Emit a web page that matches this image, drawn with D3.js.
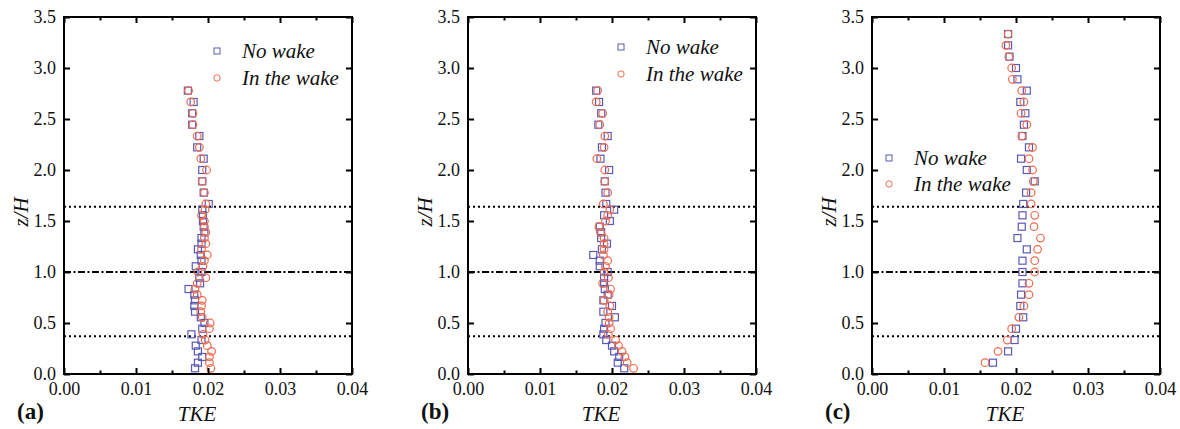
<!DOCTYPE html>
<html>
<head>
<meta charset="utf-8">
<script src="https://cdn.jsdelivr.net/npm/d3@7"></script>
<style>
  html, body { margin: 0; padding: 0; background: #fff; }
  svg { display: block; }
  text { font-family: "Liberation Serif", "Times New Roman", serif; fill: #111; }
</style>
</head>
<body>
<svg id="chart" width="1180" height="429"></svg>
<script>
// Measurement heights (z/H) for profiles (a) and (b)
const heightsAB = [0.056, 0.111, 0.167, 0.222, 0.278, 0.333, 0.389, 0.444, 0.5, 0.556,
  0.611, 0.667, 0.722, 0.778, 0.833, 0.889, 0.944, 1.0, 1.056, 1.111,
  1.167, 1.222, 1.278, 1.333, 1.389, 1.444, 1.5, 1.556, 1.611,
  1.667, 1.778, 1.889, 2.0, 2.111, 2.222, 2.333, 2.444, 2.556, 2.667, 2.778];
// Measurement heights (z/H) for profile (c)
const heightsC = [0.111, 0.222, 0.333, 0.444, 0.556, 0.667, 0.778, 0.889, 1.0, 1.111,
  1.222, 1.333, 1.444, 1.556, 1.667, 1.778, 1.889, 2.0, 2.111, 2.222,
  2.333, 2.444, 2.556, 2.667, 2.778, 2.889, 3.0, 3.111, 3.222, 3.333];

// TKE profiles, bottom to top
const aNoWake = [0.0182, 0.0186, 0.0192, 0.0186, 0.0183, 0.0191, 0.0177, 0.0192, 0.0195, 0.0190,
  0.0182, 0.0181, 0.0182, 0.0181, 0.0173, 0.0189, 0.0188, 0.0191, 0.0183, 0.0191,
  0.0190, 0.0186, 0.0191, 0.0191, 0.0195, 0.0194, 0.0193, 0.0193, 0.0192,
  0.0201, 0.0194, 0.0192, 0.0192, 0.0194, 0.0185, 0.0188, 0.0178, 0.0178, 0.0180, 0.0172];
const aInWake = [0.0204, 0.0202, 0.0202, 0.0205, 0.0199, 0.0196, 0.0193, 0.0202, 0.0203, 0.0192,
  0.0190, 0.0191, 0.0192, 0.0185, 0.0182, 0.0185, 0.0197, 0.0186, 0.0193, 0.0195,
  0.0199, 0.0191, 0.0197, 0.0195, 0.0197, 0.0195, 0.0195, 0.0191, 0.0196,
  0.0197, 0.0195, 0.0192, 0.0198, 0.0190, 0.0188, 0.0185, 0.0179, 0.0179, 0.0176, 0.0173];

const bNoWake = [0.0217, 0.0208, 0.0210, 0.0203, 0.0200, 0.0192, 0.0188, 0.0189, 0.0191, 0.0204,
  0.0188, 0.0200, 0.0188, 0.0194, 0.0190, 0.0189, 0.0189, 0.0194, 0.0183, 0.0183,
  0.0174, 0.0186, 0.0193, 0.0185, 0.0185, 0.0183, 0.0197, 0.0189, 0.0203,
  0.0192, 0.0191, 0.0190, 0.0196, 0.0184, 0.0186, 0.0194, 0.0181, 0.0185, 0.0182, 0.0178];
const bInWake = [0.0230, 0.0221, 0.0218, 0.0214, 0.0209, 0.0205, 0.0195, 0.0198, 0.0196, 0.0196,
  0.0194, 0.0197, 0.0189, 0.0196, 0.0198, 0.0187, 0.0195, 0.0189, 0.0191, 0.0194,
  0.0188, 0.0189, 0.0189, 0.0189, 0.0184, 0.0182, 0.0191, 0.0194, 0.0197,
  0.0188, 0.0194, 0.0190, 0.0190, 0.0179, 0.0189, 0.0190, 0.0183, 0.0187, 0.0178, 0.0180];

const cNoWake = [0.0168, 0.0189, 0.0198, 0.0200, 0.0210, 0.0206, 0.0207, 0.0209, 0.0209, 0.0209,
  0.0215, 0.0202, 0.0208, 0.0209, 0.0210, 0.0214, 0.0226, 0.0215, 0.0207, 0.0218,
  0.0209, 0.0211, 0.0213, 0.0206, 0.0215, 0.0202, 0.0200, 0.0191, 0.0189, 0.0189];
const cInWake = [0.0157, 0.0175, 0.0188, 0.0194, 0.0204, 0.0211, 0.0218, 0.0218, 0.0226, 0.0226,
  0.0230, 0.0234, 0.0225, 0.0226, 0.0221, 0.0221, 0.0224, 0.0223, 0.0218, 0.0223,
  0.0208, 0.0215, 0.0207, 0.0211, 0.0208, 0.0195, 0.0194, 0.0190, 0.0186, 0.0189];

// Axis ticks
const xTicks = [0, 0.01, 0.02, 0.03, 0.04];
const xMinorTicks = [0.005, 0.015, 0.025, 0.035];
const yTicks = [0, 0.5, 1.0, 1.5, 2.0, 2.5, 3.0, 3.5];

// Horizontal reference levels (z/H)
const refLevels = [0.37, 1.0, 1.64];
const refStyles = ["dotted", "dashdot", "dotted"];

const seriesNames = ["No wake", "In the wake"];
const panelLabels = ["(a)", "(b)", "(c)"];

const panels = [
  { label: panelLabels[0], z: heightsAB, noWake: aNoWake, inWake: aInWake, legend: [153, 51, 27] },
  { label: panelLabels[1], z: heightsAB, noWake: bNoWake, inWake: bInWake, legend: [153, 47, 27] },
  { label: panelLabels[2], z: heightsC,  noWake: cNoWake, inWake: cInWake, legend: [17, 158, 26] }
];

const blue = "#5a5ab6";
const orange = "#f06a4c";

const svg = d3.select("#chart");
const W = 288, H = 357, plotTop = 17;
const lefts = [64, 468, 872];

const x = d3.scaleLinear().domain([0, 0.04]).range([0, W]);
const y = d3.scaleLinear().domain([0, 3.5]).range([H, 0]);

panels.forEach((p, i) => {
  const g = svg.append("g").attr("transform", `translate(${lefts[i]},${plotTop})`);

  // reference lines
  refLevels.forEach((lv, j) => {
    g.append("line")
      .attr("x1", 0).attr("x2", W)
      .attr("y1", y(lv)).attr("y2", y(lv))
      .attr("stroke", "#000").attr("stroke-width", 2)
      .attr("stroke-dasharray", refStyles[j] === "dotted" ? "2,3" : "7,2.5,2,2.5");
  });

  // markers: squares for no wake, circles for in the wake
  const sq = 7;
  g.selectAll("rect.nw").data(p.z.map((z, k) => [p.noWake[k], z])).join("rect")
    .attr("class", "nw")
    .attr("x", d => x(d[0]) - sq / 2).attr("y", d => y(d[1]) - sq / 2)
    .attr("width", sq).attr("height", sq)
    .attr("fill", "none").attr("stroke", blue).attr("stroke-width", 1.2);
  g.selectAll("circle.iw").data(p.z.map((z, k) => [p.inWake[k], z])).join("circle")
    .attr("class", "iw")
    .attr("cx", d => x(d[0])).attr("cy", d => y(d[1]))
    .attr("r", 3.8)
    .attr("fill", "none").attr("stroke", orange).attr("stroke-width", 1.2);

  // axes with inward ticks on all four sides
  const styleAxis = sel => {
    sel.select(".domain").remove();
    sel.selectAll(".tick line").attr("stroke", "#000").attr("stroke-width", 2);
    sel.selectAll(".tick text").style("font-size", "18px")
      .style("font-family", '"Liberation Serif", serif').attr("fill", "#111");
  };
  g.append("g").attr("transform", `translate(0,${H})`)
    .call(d3.axisBottom(x).tickValues(xTicks).tickFormat(d3.format(".2f"))
      .tickSizeInner(-6).tickSizeOuter(0).tickPadding(8))
    .call(styleAxis);
  g.append("g").attr("transform", `translate(0,${H})`)
    .call(d3.axisBottom(x).tickValues(xMinorTicks).tickFormat("").tickSizeInner(-3.5).tickSizeOuter(0))
    .call(styleAxis);
  g.append("g")
    .call(d3.axisTop(x).tickValues(xTicks).tickFormat("").tickSizeInner(-6).tickSizeOuter(0))
    .call(styleAxis);
  g.append("g")
    .call(d3.axisTop(x).tickValues(xMinorTicks).tickFormat("").tickSizeInner(-3.5).tickSizeOuter(0))
    .call(styleAxis);
  g.append("g")
    .call(d3.axisLeft(y).tickValues(yTicks).tickFormat(d3.format(".1f"))
      .tickSizeInner(-6).tickSizeOuter(0).tickPadding(8))
    .call(styleAxis);
  g.append("g").attr("transform", `translate(${W},0)`)
    .call(d3.axisRight(y).tickValues(yTicks).tickFormat("").tickSizeInner(-6).tickSizeOuter(0))
    .call(styleAxis);

  // frame
  g.append("rect").attr("x", 0).attr("y", 0).attr("width", W).attr("height", H)
    .attr("fill", "none").attr("stroke", "#000").attr("stroke-width", 2);

  // axis titles
  g.append("text")
    .attr("transform", `translate(-36,${195}) rotate(-90)`)
    .attr("text-anchor", "middle")
    .style("font-size", "21px").style("font-style", "italic")
    .text("z/H");
  g.append("text")
    .attr("x", W / 2 - 11).attr("y", 404)
    .attr("text-anchor", "middle")
    .style("font-size", "21px").style("font-style", "italic")
    .text("TKE");
  g.append("text")
    .attr("x", -47).attr("y", 402)
    .style("font-size", "23px").style("font-weight", "bold")
    .text(p.label);

  // legend
  const [lx, ly, gap] = p.legend;
  g.append("rect").attr("x", lx - 3).attr("y", ly - plotTop - 3).attr("width", 6).attr("height", 6)
    .attr("fill", "none").attr("stroke", blue).attr("stroke-width", 1);
  g.append("circle").attr("cx", lx).attr("cy", ly - plotTop + gap).attr("r", 3.2)
    .attr("fill", "none").attr("stroke", orange).attr("stroke-width", 1);
  g.append("text").attr("x", lx + 25).attr("y", ly - plotTop + 7)
    .style("font-size", "21px").style("font-style", "italic").text(seriesNames[0]);
  g.append("text").attr("x", lx + 25).attr("y", ly - plotTop + gap + 7)
    .style("font-size", "21px").style("font-style", "italic").text(seriesNames[1]);
});
</script>
</body>
</html>
